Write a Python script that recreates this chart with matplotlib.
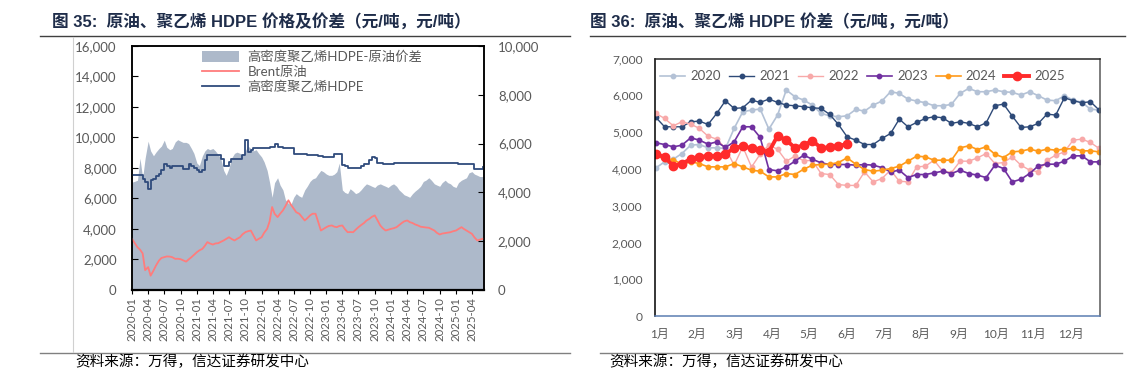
import numpy as np
import pandas as pd
import matplotlib
matplotlib.use("Agg")
import matplotlib.pyplot as plt
import matplotlib.dates as mdates
from matplotlib.lines import Line2D
from matplotlib.patches import Patch
from matplotlib.ticker import FuncFormatter

plt.rcParams['font.family'] = ['Lato', 'Noto Sans CJK SC', 'DejaVu Sans']

# ---------------- data: left chart (semi-monthly, from 2020-01) ----------------
spread = [4420, 4450, 4500, 5400, 4600, 5400, 6100, 5700, 5500, 5650,
          5800, 5900, 6140, 5850, 5750, 5800, 6070, 6160, 6100, 6050,
          6050, 6000, 5800, 5600, 5200, 5100, 5500, 5700, 5800, 5750,
          5800, 5700, 5550, 5400, 4900, 4700, 5000, 5400, 5600, 5650,
          5600, 5500, 5700, 5900, 5800, 5700, 5750, 5600, 5450, 5250,
          4900, 4400, 3800, 4400, 4600, 4300, 4100, 3700, 3550, 3500,
          3800, 3950, 3850, 3800, 4100, 4250, 4450, 4550, 4600, 4750,
          4900, 4850, 4750, 4700, 4700, 4750, 4850, 5200, 4100, 4000,
          3950, 4150, 4050, 3950, 4000, 4100, 4250, 4350, 4300, 4250,
          4200, 4300, 4350, 4300, 4250, 4200, 4300, 4350, 4250, 4100,
          4000, 3900, 3850, 3800, 3950, 4050, 4150, 4250, 4450, 4500,
          4600, 4500, 4350, 4300, 4250, 4400, 4500, 4400, 4350, 4250,
          4200, 4400, 4500, 4550, 4600, 4800, 4850, 4750, 4700, 4650,
          4650]

brent = [3355, 3100, 2800, 2650, 2400, 1300, 1500, 940, 1270, 1600,
         1930, 2100, 2150, 2200, 2190, 2150, 2040, 2050, 2020, 1950,
         1860, 2000, 2150, 2300, 2480, 2600, 2700, 2900, 3140, 3050,
         2980, 3050, 3070, 3150, 3250, 3350, 3460, 3350, 3250, 3350,
         3460, 3650, 3790, 3850, 3900, 3600, 3250, 3350, 3460, 3750,
         4010, 4500, 5440, 5000, 4780, 5000, 5220, 5500, 5880, 5600,
         5330, 5100, 5000, 4800, 4560, 4700, 4890, 5000, 5000, 4500,
         3900, 4000, 4120, 4200, 4230, 4150, 4120, 4200, 4230, 4000,
         3790, 3800, 3790, 3950, 4120, 4250, 4390, 4550, 4670, 4800,
         4890, 4600, 4230, 4050, 3900, 3950, 4010, 4050, 4120, 4250,
         4390, 4500, 4560, 4450, 4390, 4300, 4230, 4150, 4120, 4100,
         4080, 4000, 3900, 3750, 3640, 3700, 3730, 3750, 3790, 3850,
         3900, 4000, 4120, 4000, 3900, 3800, 3680, 3450, 3250, 3300,
         3360]

hdpe = [7520, 7520, 7520, 7520, 7300, 7100, 6640, 7200, 7300, 7450,
        7630, 7900, 8250, 8150, 8030, 8110, 8110, 8110, 8110, 7960,
        7960, 8250, 8100, 8030, 7900, 7740, 7850, 8500, 8840, 8840,
        8840, 8840, 8840, 8600, 8110, 8110, 8400, 8620, 8620, 8620,
        8620, 8840, 9820, 9060, 9210, 9280, 9280, 9280, 9280, 9280,
        9300, 9390, 9390, 9600, 9390, 9390, 9340, 9340, 9340, 9340,
        8950, 8950, 8950, 8950, 8950, 8840, 8840, 8840, 8840, 8800,
        8800, 8730, 8730, 8730, 8730, 8900, 8900, 8900, 8180, 8100,
        8000, 8000, 8000, 8000, 8000, 8100, 8250, 8250, 8510, 8730,
        8680, 8330, 8330, 8250, 8250, 8250, 8250, 8300, 8330, 8330,
        8350, 8350, 8350, 8350, 8350, 8350, 8330, 8330, 8330, 8330,
        8330, 8330, 8330, 8330, 8330, 8330, 8330, 8330, 8330, 8330,
        8330, 8290, 8290, 8290, 8290, 8250, 8250, 7960, 7960, 7960,
        8070]

# ---------------- data: right chart (weekly spread by year) ----------------
y2020 = [4027, 4190, 4263, 4417, 4644, 4662, 4572, 4572, 4554, 5099,
         5553, 5598, 5625, 5081, 5462, 6143, 5961, 5870, 5734, 5507,
         5443, 5416, 5443, 5616, 5570, 5734, 5843, 6097, 6052, 5897,
         5843, 5798, 5716, 5716, 5752, 6052, 6188, 6097, 6097, 6143,
         6097, 6079, 6007, 6097, 5988, 5870, 5852, 5988, 5870, 5807,
         5625, 5598]
y2021 = [5398, 5144, 5144, 5144, 5280, 5298, 5207, 5507, 5852, 5643,
         5661, 5870, 5807, 5897, 5807, 5734, 5716, 5689, 5661, 5643,
         5480, 5207, 4871, 4780, 4662, 4662, 4826, 4962, 5353, 5144,
         5262, 5371, 5416, 5389, 5235, 5280, 5235, 5144, 5253, 5716,
         5761, 5434, 5126, 5144, 5235, 5489, 5462, 5934, 5852, 5798,
         5825, 5598]
y2022 = [5507, 5371, 5171, 5280, 5217, 5099, 4889, 4808, 4560, 4100,
         4600, 4050, 4400, 4650, 4530, 4209, 4345, 4220, 4230, 3873,
         3845, 3573, 3550, 3550, 3918, 3646, 3736, 3964, 3664, 3646,
         4054, 4072, 4236, 3936, 3900, 4209, 4209, 4299, 4417, 4145,
         4172, 4327, 4100, 3964, 3918, 4236, 4372, 4463, 4781, 4808,
         4717, 4554]
y2023 = [4708, 4662, 4599, 4644, 4844, 4781, 4672, 4735, 4581, 4735,
         5144, 5144, 4853, 3982, 3946, 4054, 4209, 4372, 4263, 4163,
         4118, 4118, 4118, 4100, 4118, 4100, 4036, 3918, 3964, 3764,
         3846, 3846, 3891, 3936, 3873, 3964, 3873, 3828, 3764, 4100,
         4009, 3646, 3718, 3873, 4082, 4127, 4127, 4209, 4354, 4354,
         4190, 4190]
y2024 = [4372, 4263, 4254, 4118, 4190, 4145, 4054, 4054, 4054, 4145,
         4054, 3964, 3936, 3782, 3782, 3873, 3846, 3991, 4100, 4118,
         4127, 4172, 4299, 4127, 3982, 3936, 3964, 4009, 4072, 4209,
         4345, 4327, 4236, 4236, 4236, 4572, 4626, 4526, 4599, 4399,
         4308, 4463, 4481, 4535, 4481, 4535, 4508, 4535, 4554, 4490,
         4490, 4463]
y2025 = [4399, 4327, 4072, 4145, 4263, 4327, 4345, 4345, 4417, 4554,
         4626, 4554, 4508, 4463, 4899, 4781, 4572, 4644, 4763, 4572,
         4581, 4626, 4672]

month_labels = ['1月', '2月', '3月', '4月', '5月', '6月',
                '7月', '8月', '9月', '10月', '11月', '12月']
title_left = '图 35:  原油、聚乙烯 HDPE 价格及价差（元/吨，元/吨）'
title_right = '图 36:  原油、聚乙烯 HDPE 价差（元/吨，元/吨）'
source = '资料来源：万得，信达证券研发中心'

gray_txt = '#595959'
fmt = FuncFormatter(lambda v, p: f'{v:,.0f}')

fig = plt.figure(figsize=(11.37, 3.77), dpi=100)

# ---------------- left chart ----------------
dates = pd.date_range('2020-01-01', periods=len(spread), freq='SMS')

ax = fig.add_axes([0.1161, 0.2308, 0.3096, 0.6472])
ax2 = ax.twinx()
ax2.fill_between(dates, 0, spread, color='#ADB9CA', lw=0)
ax.plot(dates, brent, color='#FF7C7C', lw=1.3)
ax.plot(dates, hdpe, color='#2F4B7C', lw=1.3, drawstyle='steps-post')
ax.set_zorder(ax2.get_zorder() + 1)
ax.patch.set_visible(False)

ax.set_ylim(0, 16000)
ax.set_yticks(np.arange(0, 16001, 2000))
ax2.set_ylim(0, 10000)
ax2.set_yticks(np.arange(0, 10001, 2000))
ax.yaxis.set_major_formatter(fmt)
ax2.yaxis.set_major_formatter(fmt)
ax.set_xlim(pd.Timestamp('2020-01-01'), pd.Timestamp('2025-06-08'))
ax.xaxis.set_major_locator(mdates.MonthLocator(bymonth=[1, 4, 7, 10]))
ax.xaxis.set_major_formatter(mdates.DateFormatter('%Y-%m'))

ax.tick_params(axis='y', direction='in', length=4, pad=11, labelsize=9.5,
               labelcolor=gray_txt)
ax2.tick_params(axis='y', direction='in', length=4, pad=10, labelsize=9.5,
                labelcolor=gray_txt)
ax.tick_params(axis='x', direction='out', length=3, pad=2, labelsize=8.2,
               labelcolor=gray_txt, labelrotation=90)
for a in (ax, ax2):
    for s in a.spines.values():
        s.set_color('black')
        s.set_linewidth(1.1)
ax.spines['bottom'].set_linewidth(1.6)

handles = [Patch(facecolor='#ADB9CA', edgecolor='none'),
           Line2D([], [], color='#FF7C7C', lw=1.3),
           Line2D([], [], color='#2F4B7C', lw=1.3)]
labels = ['高密度聚乙烯HDPE-原油价差', 'Brent原油', '高密度聚乙烯HDPE']
leg = ax.legend(handles, labels, loc='upper left', bbox_to_anchor=(0.165, 1.03),
                frameon=False, fontsize=9.6, handlelength=2.8, handleheight=0.9,
                labelspacing=0.2, handletextpad=0.6)
for t in leg.get_texts():
    t.set_color(gray_txt)

# ---------------- right chart ----------------
bx = fig.add_axes([0.5761, 0.1618, 0.3914, 0.683])
series = [('2020', y2020, '#B4C2D6', 1.2, 3.2),
          ('2021', y2021, '#2E4A78', 1.0, 3.2),
          ('2022', y2022, '#F8A9A9', 1.0, 3.2),
          ('2023', y2023, '#7030A0', 1.2, 3.2),
          ('2024', y2024, '#FF9A1A', 1.2, 3.2),
          ('2025', y2025, '#FF2B2B', 2.8, 6.0)]
for name, vals, col, lw, ms in series:
    bx.plot(np.arange(len(vals)), vals, color=col, lw=lw, marker='o',
            markersize=ms, label=name)

bx.set_ylim(0, 7000)
bx.set_yticks(np.arange(0, 7001, 1000))
bx.yaxis.set_major_formatter(fmt)
bx.set_xlim(-0.1, 51.1)
bx.set_xticks(np.linspace(0.45, 47.7, 12))
bx.set_xticklabels(month_labels)
bx.tick_params(axis='both', length=0, labelsize=8.6, labelcolor=gray_txt)
bx.tick_params(axis='y', pad=9)
bx.tick_params(axis='x', pad=9)
bx.spines['left'].set_color('black')
bx.spines['top'].set_color('#262626')
bx.spines['right'].set_color('#595959')
bx.spines['bottom'].set_color('#5B7DB1')
for s in bx.spines.values():
    s.set_linewidth(1.1)

leg2 = bx.legend(loc='upper left', bbox_to_anchor=(-0.015, 1.0), ncol=6,
                 frameon=False, fontsize=9.5, handlelength=1.9,
                 handletextpad=0.4, columnspacing=0.6)
for t in leg2.get_texts():
    t.set_color(gray_txt)

# ---------------- titles, rules, sources ----------------
title_kw = dict(fontsize=12, fontweight='bold', color='#1F2D4A', va='center',
                family=['Liberation Sans', 'Noto Sans CJK SC'])
fig.text(52 / 1137, 1 - 22 / 377, title_left, **title_kw)
fig.text(590 / 1137, 1 - 22 / 377, title_right, **title_kw)

for x0, x1 in [(40, 570), (590, 1125)]:
    fig.add_artist(Line2D([x0 / 1137, x1 / 1137], [1 - 36 / 377] * 2,
                          color='#404040', lw=1))
for x0, x1 in [(40, 570), (600, 1122)]:
    fig.add_artist(Line2D([x0 / 1137, x1 / 1137], [1 - 352.5 / 377] * 2,
                          color='#808080', lw=1))
fig.add_artist(Line2D([73 / 1137] * 2, [1 - 37 / 377, 1 - 352 / 377],
                      color='#D0D0D0', lw=0.8))

src_kw = dict(fontsize=10.5, color='black', va='center', style='italic')
fig.text(75 / 1137, 1 - 362 / 377, source, **src_kw)
fig.text(609 / 1137, 1 - 362 / 377, source, **src_kw)

fig.savefig('out.png', dpi=100)
